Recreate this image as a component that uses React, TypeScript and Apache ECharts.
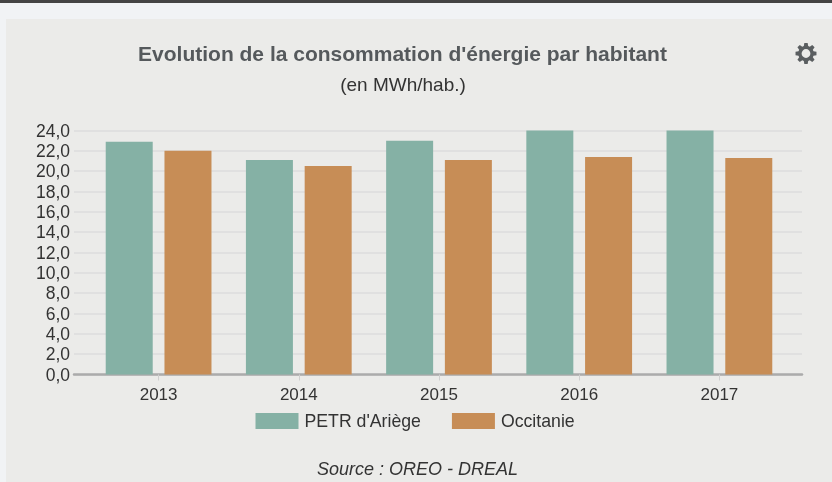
import React, { useEffect, useRef } from "react";
import * as echarts from "echarts";

const years = ["2013", "2014", "2015", "2016", "2017"];
const petr = [22.9, 21.1, 23.0, 24.0, 24.0];
const occitanie = [22.0, 20.5, 21.1, 21.4, 21.3];
const seriesNames = ["PETR d'Ariège", "Occitanie"];
const titleText = "Evolution de la consommation d'énergie par habitant";
const subtitleText = "(en MWh/hab.)";
const sourceText = "Source : OREO - DREAL";

function gearPath() {
  const teeth = 8;
  const rOut = 10.6, rIn = 7.8, rHole = 4.4;
  const pts: string[] = [];
  for (let i = 0; i < teeth; i++) {
    const a = (i / teeth) * Math.PI * 2;
    const step = (Math.PI * 2) / teeth;
    const list = [
      [rIn, a - step * 0.36],
      [rOut, a - step * 0.2],
      [rOut, a + step * 0.2],
      [rIn, a + step * 0.36],
    ];
    for (const [r, t] of list) {
      pts.push(`${pts.length ? "L" : "M"}${(r * Math.cos(t)).toFixed(2)} ${(r * Math.sin(t)).toFixed(2)}`);
    }
  }
  const hole = `M${rHole} 0A${rHole} ${rHole} 0 1 0 ${-rHole} 0A${rHole} ${rHole} 0 1 0 ${rHole} 0Z`;
  return pts.join("") + "Z" + hole;
}

export default function App() {
  const ref = useRef<HTMLDivElement>(null);
  useEffect(() => {
    document.body.style.margin = "0";
    document.body.style.overflow = "hidden";
    echarts.graphic.registerShape("gear", echarts.graphic.extendPath(gearPath(), {}) as any);
    const chart = echarts.init(ref.current!, undefined, { renderer: "svg" });
    const font = "'Liberation Sans', Arial, sans-serif";
    chart.setOption({
      animation: false,
      backgroundColor: "transparent",
      textStyle: { fontFamily: font },
      title: [
        { text: titleText, left: 397.5, top: 37.5, textAlign: "center",
          textStyle: { fontFamily: font, fontSize: 21, fontWeight: "bold", color: "#55595c" } },
        { text: subtitleText, left: 398, top: 69.5, textAlign: "center",
          textStyle: { fontFamily: font, fontSize: 19, fontWeight: "normal", color: "#333" } },
        { text: sourceText, left: 412.5, top: 455, textAlign: "center",
          textStyle: { fontFamily: font, fontSize: 18, fontStyle: "italic", fontWeight: "normal", color: "#333" } },
      ],
      legend: {
        left: 250.5, top: 407, itemWidth: 43, itemHeight: 16, itemGap: 31,
        icon: "rect", data: seriesNames,
        textStyle: { fontFamily: font, fontSize: 17.7, color: "#333", padding: [0, 0, 0, 1] },
      },
      grid: [
        { left: 74, right: 30, top: 130.5, height: 244 },
        { left: 88.5, width: 701, top: 130.5, height: 244 },
      ],
      xAxis: [
        { type: "category", gridIndex: 0, data: years,
          axisLine: { lineStyle: { color: "#ababab", width: 2.5 } },
          axisTick: { show: false }, axisLabel: { show: false } },
        { type: "category", gridIndex: 1, data: years,
          axisLine: { show: false },
          axisTick: { show: true, alignWithLabel: true, length: 6, lineStyle: { color: "#cfcfcf", width: 1 } },
          axisLabel: { fontFamily: font, fontSize: 17, color: "#333", margin: 11 } },
      ],
      yAxis: [
        { type: "value", gridIndex: 0, min: 0, max: 24, interval: 2,
          axisLine: { show: false }, axisTick: { show: false },
          splitLine: { lineStyle: { color: "#dcdcdc", width: 1.5 } },
          axisLabel: { fontFamily: font, fontSize: 17.5, color: "#333", margin: 4,
            formatter: (v: number) => v.toFixed(1).replace(".", ",") } },
        { type: "value", gridIndex: 1, min: 0, max: 24, interval: 2, show: false },
      ],
      series: [
        { name: seriesNames[0], type: "bar", xAxisIndex: 1, yAxisIndex: 1, data: petr,
          barWidth: 47, barGap: "25%", itemStyle: { color: "#85b1a5" } },
        { name: seriesNames[1], type: "bar", xAxisIndex: 1, yAxisIndex: 1, data: occitanie,
          barWidth: 47, itemStyle: { color: "#c78d56" } },
      ],
      graphic: [
        { type: "gear", x: 806, y: 53.5, style: { fill: "#5a5e60", fillRule: "evenodd" } },
      ],
    });
    return () => chart.dispose();
  }, []);
  return (
    <div style={{ position: "fixed", left: 0, top: 0, width: 832, height: 482, background: "#f1f3f5", overflow: "hidden" }}>
      <div style={{ position: "absolute", left: 0, top: 0, width: 832, height: 3, background: "#444" }} />
      <div style={{ position: "absolute", left: 6, top: 19, width: 826, height: 463, background: "#ebebe9" }} />
      <div ref={ref} style={{ position: "absolute", left: 0, top: 0, width: 832, height: 482, filter: "blur(0.4px)" }} />
    </div>
  );
}
